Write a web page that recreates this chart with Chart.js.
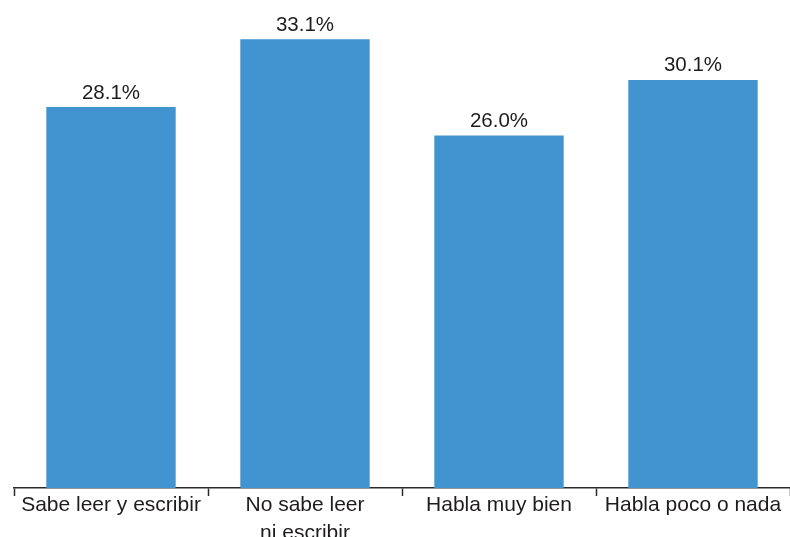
<!DOCTYPE html>
<html>
<head>
<meta charset="utf-8">
<script src="https://cdn.jsdelivr.net/npm/chart.js@4/dist/chart.umd.min.js"></script>
<style>
  html, body { margin: 0; padding: 0; background: #ffffff; overflow: hidden; }
  #wrap { position: relative; width: 790px; height: 537px; }
</style>
</head>
<body>
<div id="wrap"><canvas id="chart" width="790" height="537"></canvas></div>
<script>
// Porcentaje por condición de alfabetismo y dominio del español
const categories = [
  ['Sabe leer y escribir'],
  ['No sabe leer', 'ni escribir'],
  ['Habla muy bien'],
  ['Habla poco o nada']
];
const values = [28.1, 33.1, 26.0, 30.1];
const valueLabels = ['28.1%', '33.1%', '26.0%', '30.1%'];

const BAR_COLOR = '#4194cf';
const TEXT_COLOR = '#1f1c1d';
const AXIS_COLOR = '#2a2a2a';
const FONT = '"Liberation Sans", Arial, sans-serif';

// Writes each bar's value just above its top
const barValueLabels = {
  id: 'barValueLabels',
  afterDatasetsDraw(chart) {
    const ctx = chart.ctx;
    const meta = chart.getDatasetMeta(0);
    ctx.save();
    ctx.font = '20.5px ' + FONT;
    ctx.fillStyle = TEXT_COLOR;
    ctx.textAlign = 'center';
    ctx.textBaseline = 'alphabetic';
    meta.data.forEach((bar, i) => {
      ctx.fillText(valueLabels[i], bar.x, bar.y - 8.5);
    });
    ctx.restore();
  }
};

new Chart(document.getElementById('chart'), {
  type: 'bar',
  data: {
    labels: categories,
    datasets: [{
      data: values,
      backgroundColor: BAR_COLOR,
      borderWidth: 0,
      barPercentage: 0.667,
      categoryPercentage: 1.0
    }]
  },
  options: {
    responsive: false,
    animation: false,
    devicePixelRatio: 1,
    layout: { padding: { left: 14, right: 0, top: 0, bottom: 0 } },
    plugins: {
      legend: { display: false },
      tooltip: { enabled: false },
      title: { display: false }
    },
    scales: {
      x: {
        offset: true,
        grid: {
          display: true,
          offset: true,
          drawOnChartArea: false,
          drawTicks: true,
          tickLength: 8,
          tickWidth: 1.5,
          tickColor: AXIS_COLOR
        },
        border: { display: true, color: AXIS_COLOR, width: 1.5 },
        ticks: {
          color: TEXT_COLOR,
          padding: -5,
          maxRotation: 0,
          autoSkip: false,
          font: { family: FONT, size: 21, lineHeight: 1.33 }
        },
        afterFit(scale) { scale.height = 49; }
      },
      y: {
        display: false,
        min: 0,
        max: 36
      }
    }
  },
  plugins: [barValueLabels]
});
</script>
</body>
</html>
